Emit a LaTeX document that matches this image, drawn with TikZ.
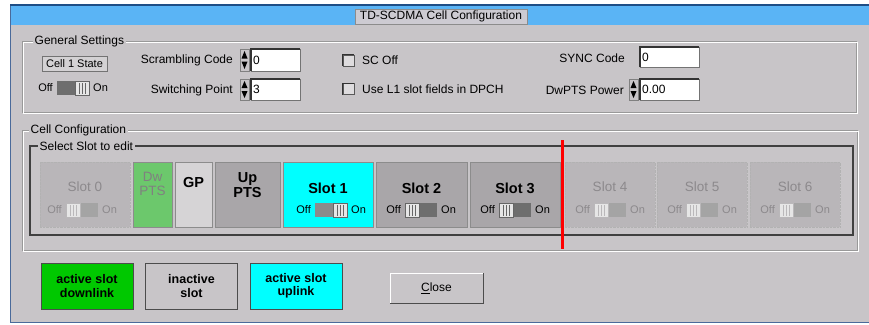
\documentclass[tikz,border=0pt]{standalone}
\usepackage{fontspec}
\setmainfont{Liberation Sans}
\definecolor{winbg}{HTML}{C8C5C8}
\definecolor{winedge}{HTML}{4A6A9A}
\definecolor{titlebar}{HTML}{5AB4F5}
\definecolor{titleedge}{HTML}{1E4E86}
\definecolor{titlebox}{HTML}{CDCBD2}
\definecolor{slotgray}{HTML}{A9A6A9}
\definecolor{slotdim}{HTML}{B9B6B9}
\definecolor{gpgray}{HTML}{D6D4D6}
\definecolor{dwgreen}{HTML}{6CC86C}
\definecolor{upcyan}{HTML}{00FFFF}
\definecolor{leggreen}{HTML}{00C800}
\definecolor{dimtext}{HTML}{8C898C}
\definecolor{knob}{HTML}{E6E6E6}
\definecolor{trackdark}{HTML}{6E6E6E}
\definecolor{tracklight}{HTML}{A4A4A4}
% on/off switch: name, centre x, centre y, knob offset (0 left, 18 right), text colour, track colour
\newcommand{\slotswitch}[6]{%
  \node[swtext,text=#5,anchor=east] (#1off) at (#2-20,#3) {Off};
  \node[swtext,text=#5,anchor=west] (#1on) at (#2+20,#3) {On};
  \fill[#6] (#2-16,#3-7) rectangle (#2+16,#3+7);
  \draw[fill=knob,draw=#5!60] (#2-16+#4,#3-7) rectangle (#2-2+#4,#3+7);
  \foreach \k in {4,7,10} \draw[#5!60] (#2-16+#4+\k,#3-5) -- (#2-16+#4+\k,#3+6);
}
% up/down spinner at left x, top y, bottom y
\newcommand{\spinner}[3]{%
  \draw[fill=winbg,draw=black!50] (#1,#2) rectangle (#1+9,#3);
  \fill[black] (#1+1.5,{(#2+#3)/2-1.5}) -- (#1+7.5,{(#2+#3)/2-1.5}) -- (#1+4.5,#2+2) -- cycle;
  \fill[black] (#1+1.5,{(#2+#3)/2+1.5}) -- (#1+7.5,{(#2+#3)/2+1.5}) -- (#1+4.5,#3-2) -- cycle;
}
\begin{document}
\begin{tikzpicture}[x=1pt,y=-1pt,
    lbl/.style={font=\fontsize{12}{14}\selectfont,inner sep=0pt},
    swtext/.style={font=\fontsize{11}{12}\selectfont,inner sep=0pt},
    framelbl/.style={lbl,fill=winbg,inner xsep=1.5pt,anchor=west},
    etch/.style={draw=black!40},
    txtbox/.style={draw=black!55,fill=white,inner sep=0pt,anchor=north west},
    sunken/.style={draw=black!80,line width=1.2pt},
    chkbox/.style={draw=black!65,fill=winbg!60!white,inner sep=0pt,minimum size=11pt},
    slotbox/.style={draw=black!45,inner sep=0pt,minimum height=65pt},
    dimslot/.style={slotbox,fill=slotdim,draw=black!30,densely dotted},
    slotname/.style={font=\fontsize{14.5}{15.5}\selectfont\bfseries,inner sep=0pt,align=center},
    dimname/.style={font=\fontsize{13.5}{14}\selectfont,text=dimtext,inner sep=0pt,align=center},
    legendbox/.style={draw=black!70,line width=1pt,minimum width=92pt,minimum height=46pt,
      align=center,inner sep=0pt,font=\fontsize{12.5}{13.5}\selectfont\bfseries}]
  \useasboundingbox (0,0) rectangle (869,324);
  \fill[white] (0,0) rectangle (869,324);
  % window and title bar
  \draw[fill=winbg,draw=winedge,line width=1pt] (10,5) rectangle (870,322);
  \fill[titlebar] (11,6) rectangle (869,25);
  \draw[titleedge,line width=1.5pt] (10,5) -- (869,5);
  \node[lbl,draw=black!45,fill=titlebox,minimum width=172pt,minimum height=15pt] (title) at (441,16.5) {TD-SCDMA Cell Configuration};

  % general settings
  \draw[etch] (22,41) rectangle (856,112);
  \draw[white] (23,42) rectangle (857,113);
  \node[framelbl] (gslbl) at (33,41) {General Settings};
  \node[lbl,draw=black!55,fill=winbg!80!white,minimum width=65pt,minimum height=15pt,
    font=\fontsize{11}{13}\selectfont] (cellstate) at (74.5,64) {Cell 1 State};
  \slotswitch{cell}{73}{88}{18}{black}{trackdark}
  \node[lbl,anchor=east] (sclbl) at (233,60) {Scrambling Code};
  \spinner{240}{49}{71}
  \node[txtbox,minimum width=49pt,minimum height=22pt] (scbox) at (251,49) {};
  \node[lbl,anchor=west] (scval) at ([xshift=2pt]scbox.west) {0};
  \node[lbl,anchor=east] (splbl) at (233,90) {Switching Point};
  \spinner{240}{79}{100}
  \node[txtbox,minimum width=49pt,minimum height=21pt] (spbox) at (251,79) {};
  \node[lbl,anchor=west] (spval) at ([xshift=2pt]spbox.west) {3};
  \node[chkbox] (scoff) at (348.5,60.5) {};
  \node[lbl,anchor=west] (scofflbl) at (362,60) {SC Off};
  \node[chkbox] (usel1) at (348.5,89) {};
  \node[lbl,anchor=west] (usel1lbl) at (362,89) {Use L1 slot fields in DPCH};
  \node[lbl,anchor=east] (synclbl) at (625,58) {SYNC Code};
  \node[txtbox,minimum width=59pt,minimum height=20pt] (syncbox) at (640,47) {};
  \node[lbl,anchor=west] (syncval) at ([xshift=2pt]syncbox.west) {0};
  \node[lbl,anchor=east] (dwplbl) at (624,90) {DwPTS Power};
  \spinner{629}{79}{100}
  \node[txtbox,minimum width=59pt,minimum height=21pt] (dwpbox) at (640,79) {};
  \node[lbl,anchor=west] (dwpval) at ([xshift=2pt]dwpbox.west) {0.00};
  \foreach \b in {scbox,spbox,syncbox,dwpbox}
    \draw[sunken] (\b.south west) |- (\b.north east);
  \foreach \b in {scoff,usel1}
    \draw[sunken] (\b.south west) |- (\b.north east);

  % cell configuration
  \draw[etch] (22,130) rectangle (857,250);
  \draw[white] (23,131) rectangle (858,251);
  \node[framelbl] (cclbl) at (29,130) {Cell Configuration};
  \draw[black!75,line width=1.5pt] (30,146) rectangle (853,235);
  \node[framelbl] (sellbl) at (38,146) {Select Slot to edit};

  % slots
  \node[dimslot,minimum width=90pt] (slot0) at (85,194.5) {};
  \node[dimname] (slot0lbl) at (85,187) {Slot 0};
  \slotswitch{slot0}{82}{210}{0}{dimtext}{tracklight}
  \node[slotbox,fill=dwgreen,minimum width=39pt] (dwpts) at (152.5,194.5) {};
  \node[dimname,text=black!50] (dwptslbl) at (152.5,184) {Dw\\PTS};
  \node[slotbox,fill=gpgray,minimum width=37pt] (gp) at (193.5,194.5) {};
  \node[slotname] (gplbl) at (193.5,183) {GP};
  \node[slotbox,fill=slotgray,minimum width=65pt] (uppts) at (247.5,194.5) {};
  \node[slotname] (upptslbl) at (247.5,185) {Up\\PTS};
  \node[slotbox,fill=upcyan,minimum width=90pt] (slot1) at (328,194.5) {};
  \node[slotname] (slot1lbl) at (328,188) {Slot 1};
  \slotswitch{slot1}{331}{210}{18}{black}{trackdark!80}
  \node[slotbox,fill=slotgray,minimum width=91pt] (slot2) at (421.5,194.5) {};
  \node[slotname] (slot2lbl) at (421.5,188) {Slot 2};
  \slotswitch{slot2}{421}{210}{0}{black}{trackdark}
  \node[slotbox,fill=slotgray,minimum width=90pt] (slot3) at (515,194.5) {};
  \node[slotname] (slot3lbl) at (515,188) {Slot 3};
  \slotswitch{slot3}{515}{210}{0}{black}{trackdark}
  \foreach \n/\cx in {4/610,5/702,6/795} {
    \node[dimslot,minimum width=90pt] (slot\n) at (\cx,194.5) {};
    \node[dimname] (slot\n lbl) at (\cx,187) {Slot \n};
    \slotswitch{slot\n}{\cx}{210}{0}{dimtext}{tracklight}
  }
  \draw[red,line width=3pt] (562,140) -- (562,249);

  % legend and close button
  \node[legendbox,fill=leggreen] (legdown) at (87,286) {active slot\\downlink};
  \node[legendbox,fill=winbg] (leginact) at (191.5,286) {inactive\\slot};
  \node[legendbox,fill=upcyan] (legup) at (296,286) {active slot\\uplink};
  \node[lbl,draw=black!70,line width=1pt,fill=winbg,minimum width=93pt,minimum height=30pt] (close) at (436.5,288) {\underline{C}lose};
  \draw[white] (close.south west) ++(1,-1) |- ([shift={(-1,1)}]close.north east);
\end{tikzpicture}
\end{document}
